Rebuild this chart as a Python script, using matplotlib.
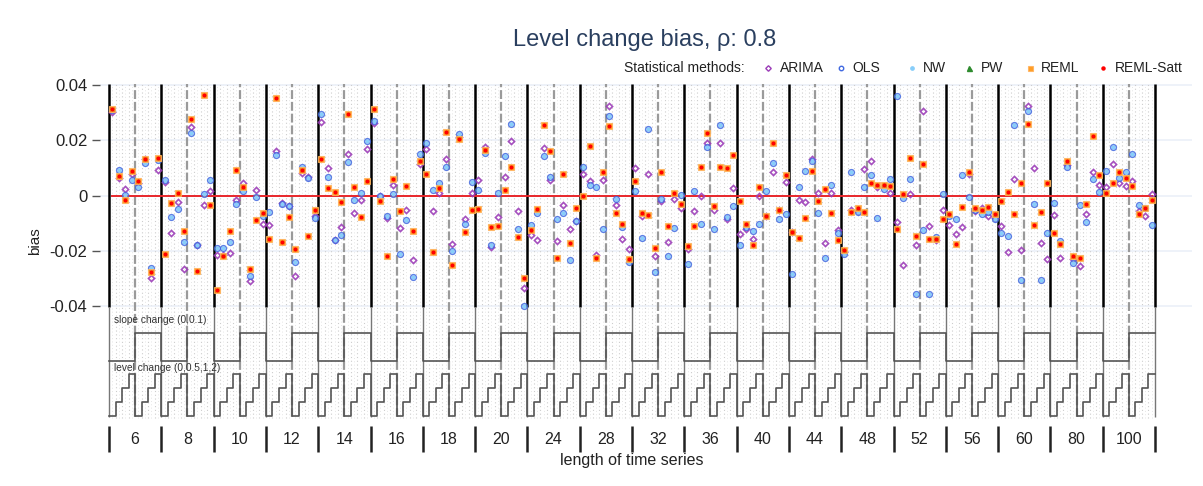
import numpy as np
import matplotlib.pyplot as plt

plt.rcParams['font.family'] = ['Liberation Sans', 'DejaVu Sans']

# nested loop design: length of series (outer), slope change, level change (inner)
lengths = [6, 8, 10, 12, 14, 16, 18, 20, 24, 28, 32, 36, 40, 44, 48, 52, 56, 60, 80, 100]
slope_changes = [0, 0.1]
level_changes = [0, 0.5, 1, 2]
methods = ['ARIMA', 'OLS', 'NW', 'PW', 'REML', 'REML-Satt']

# bias per scenario, 8 per length: slope 0 (levels 0,0.5,1,2), then slope 0.1
arima = [
    0.0302, 0.0065, 0.0024, 0.0080, 0.0047, 0.0134, -0.0297, 0.0092,
    0.0048, -0.0135, -0.0022, -0.0265, 0.0249, -0.0179, -0.0035, 0.0016,
    -0.0214, -0.0216, -0.0208, -0.0017, 0.0045, -0.0309, 0.0022, -0.0103,
    -0.0106, 0.0163, -0.0028, -0.0037, -0.0290, 0.0083, 0.0066, -0.0074,
    0.0267, 0.0099, -0.0162, -0.0113, 0.0150, -0.0064, -0.0016, 0.0169,
    0.0262, -0.0001, -0.0082, 0.0039, -0.0118, -0.0052, -0.0232, 0.0113,
    0.0170, -0.0057, 0.0008, 0.0132, -0.0175, 0.0214, -0.0086, 0.0011,
    0.0057, 0.0175, -0.0185, -0.0076, 0.0069, 0.0197, -0.0056, -0.0334,
    -0.0143, -0.0161, 0.0171, 0.0057, -0.0163, -0.0034, -0.0122, -0.0093,
    0.0077, 0.0054, -0.0215, 0.0057, 0.0326, -0.0035, -0.0156, -0.0194,
    0.0099, -0.0074, 0.0080, -0.0217, -0.0018, -0.0169, -0.0013, -0.0045,
    -0.0193, -0.0056, -0.0001, 0.0192, -0.0052, 0.0192, -0.0086, 0.0027,
    -0.0140, -0.0121, -0.0155, -0.0001, -0.0072, 0.0084, -0.0052, 0.0048,
    -0.0130, -0.0016, -0.0022, 0.0132, 0.0011, -0.0173, 0.0008, -0.0124,
    -0.0205, -0.0050, -0.0055, 0.0095, 0.0125, 0.0030, 0.0035, 0.0010,
    -0.0095, -0.0250, 0.0005, -0.0180, 0.0305, -0.0110, -0.0160, -0.0050,
    -0.0105, -0.0140, -0.0115, 0.0080, -0.0055, -0.0045, -0.0075, -0.0080,
    -0.0110, -0.0205, 0.0060, -0.0195, 0.0325, 0.0100, -0.0170, -0.0230,
    -0.0070, -0.0225, 0.0110, -0.0230, -0.0255, -0.0065, 0.0085, 0.0040,
    0.0030, 0.0115, 0.0045, 0.0035, 0.0055, -0.0055, -0.0075, 0.0005,
]
ols = [
    0.0310, 0.0092, 0.0004, 0.0056, 0.0030, 0.0120, -0.0260, 0.0128,
    0.0058, -0.0076, -0.0047, -0.0167, 0.0228, -0.0180, 0.0007, 0.0057,
    -0.0188, -0.0188, -0.0168, -0.0029, 0.0017, -0.0290, -0.0006, -0.0072,
    -0.0059, 0.0148, -0.0031, -0.0038, -0.0240, 0.0103, 0.0065, -0.0082,
    0.0297, 0.0068, -0.0160, -0.0142, 0.0123, -0.0017, 0.0011, 0.0199,
    0.0269, -0.0001, -0.0075, 0.0007, -0.0211, -0.0087, -0.0293, 0.0151,
    0.0191, 0.0019, 0.0045, 0.0105, -0.0199, 0.0223, -0.0103, 0.0050,
    0.0021, 0.0153, -0.0179, 0.0011, 0.0144, 0.0258, -0.0121, -0.0398,
    -0.0107, -0.0062, 0.0143, 0.0069, -0.0085, -0.0064, -0.0232, -0.0093,
    0.0105, 0.0039, 0.0030, -0.0121, 0.0290, -0.0011, -0.0112, -0.0240,
    0.0018, -0.0152, 0.0241, -0.0275, -0.0013, -0.0217, -0.0116, 0.0001,
    -0.0247, 0.0018, -0.0103, 0.0177, -0.0122, 0.0256, -0.0076, -0.0038,
    -0.0177, -0.0115, -0.0126, -0.0104, 0.0017, 0.0120, -0.0086, -0.0065,
    -0.0285, 0.0033, 0.0091, 0.0124, -0.0064, -0.0225, 0.0040, -0.0135,
    -0.0210, 0.0085, -0.0060, 0.0030, 0.0075, -0.0080, 0.0025, 0.0060,
    0.0360, -0.0010, 0.0060, -0.0355, -0.0125, -0.0355, -0.0150, 0.0005,
    -0.0075, -0.0085, 0.0075, -0.0005, -0.0050, -0.0065, -0.0060, -0.0085,
    -0.0135, -0.0145, 0.0255, -0.0305, 0.0305, -0.0030, -0.0305, -0.0135,
    -0.0025, -0.0165, 0.0105, -0.0245, -0.0035, -0.0095, 0.0060, 0.0015,
    0.0090, 0.0175, 0.0065, 0.0085, 0.0150, -0.0035, -0.0045, -0.0105,
]
reml = [
    0.0313, 0.0072, -0.0014, 0.0089, 0.0052, 0.0134, -0.0275, 0.0138,
    -0.0210, -0.0027, 0.0008, -0.0127, 0.0278, -0.0272, 0.0364, -0.0035,
    -0.0340, -0.0220, -0.0126, 0.0092, 0.0030, -0.0264, -0.0088, -0.0064,
    -0.0156, 0.0352, -0.0168, -0.0076, -0.0193, 0.0093, -0.0146, -0.0050,
    0.0134, 0.0027, 0.0014, -0.0023, 0.0294, 0.0030, -0.0076, 0.0052,
    0.0314, -0.0018, -0.0219, 0.0060, -0.0057, 0.0034, -0.0127, 0.0127,
    0.0077, -0.0203, 0.0027, 0.0232, -0.0252, 0.0207, -0.0132, -0.0053,
    -0.0048, 0.0165, -0.0114, -0.0110, 0.0019, 0.0105, -0.0148, -0.0298,
    -0.0124, -0.0049, 0.0256, 0.0163, -0.0224, 0.0077, -0.0172, -0.0043,
    -0.0002, 0.0181, -0.0227, 0.0085, 0.0252, -0.0064, -0.0103, -0.0229,
    0.0054, -0.0062, -0.0071, -0.0190, 0.0084, -0.0110, 0.0008, -0.0030,
    -0.0182, -0.0109, 0.0103, 0.0226, -0.0037, 0.0105, 0.0099, 0.0148,
    -0.0020, -0.0103, -0.0177, 0.0031, -0.0072, 0.0191, -0.0052, 0.0076,
    -0.0130, -0.0152, -0.0081, 0.0089, -0.0018, 0.0025, -0.0062, -0.0161,
    -0.0195, -0.0060, -0.0045, -0.0060, 0.0045, 0.0040, 0.0040, 0.0035,
    -0.0120, 0.0005, 0.0135, -0.0145, 0.0115, -0.0155, -0.0155, -0.0085,
    -0.0065, -0.0175, -0.0040, 0.0085, -0.0045, -0.0050, -0.0040, -0.0065,
    -0.0020, 0.0015, -0.0065, 0.0045, 0.0260, -0.0105, -0.0060, 0.0045,
    -0.0135, -0.0175, 0.0125, -0.0220, -0.0225, -0.0030, 0.0215, 0.0075,
    0.0010, 0.0045, 0.0085, 0.0065, 0.0035, -0.0065, -0.0045, -0.0015,
]
# NW uses the OLS estimate, REML-Satt the REML estimate; PW has no visible points
nw = ols
reml_satt = reml

yticks = [0.04, 0.02, 0, -0.02, -0.04]
ytick_labels = ['0.04', '0.02', '0', '-0.02', '-0.04']


def ypx(p):
    # pixel row of the figure -> bias units
    return (195.7 - p) / 2762.0


per_block = len(slope_changes) * len(level_changes)
n = len(lengths) * per_block
x = np.arange(n) + 0.5

fig = plt.figure(figsize=(12.03, 4.86), dpi=100)
ax = fig.add_axes([100 / 1203, 30 / 486, 1092 / 1203, 372 / 486])
ax.set_xlim(-9 / 6.5375, (1192 - 109) / 6.5375)
ax.set_ylim(ypx(456), ypx(84))
top = ypx(84)

for s in ax.spines.values():
    s.set_visible(False)
ax.set_xticks([])
ax.set_yticks(yticks)
ax.set_yticklabels(ytick_labels, fontsize=12, color='#222')
ax.tick_params(axis='y', length=6, width=1, color='#555', pad=3)

# horizontal grid
for v in yticks:
    ax.axhline(v, color='#EBF0F8', lw=1.2, zorder=0)

# dotted guide lines at scenario boundaries (lighter ones at centres)
bounds = [b for b in range(1, n) if b % 4 != 0]
ax.vlines(bounds, ypx(418), top, color='#cdcdcd', lw=0.8,
          linestyles=(0, (1, 2.4)), zorder=0.5)
ax.vlines(x, ypx(418), top, color='#e6e6e6', lw=0.7,
          linestyles=(0, (1, 2.4)), zorder=0.4)

# block and sub-block separators
blocks = np.arange(0, n + 1, per_block)
subs = np.arange(len(level_changes), n, per_block)
ax.vlines(blocks, ypx(307), top, color='black', lw=1.8, zorder=2)
ax.vlines(blocks, ypx(417), ypx(307), color='#777', lw=1.0, zorder=2)
ax.vlines(subs, ypx(417), top, color='#9a9a9a', lw=1.6,
          linestyles=(0, (4, 1.3)), zorder=2)

# reference line
ax.plot([x[0], x[-1]], [0, 0], color='#e8262a', lw=1.4, zorder=3)

# step functions for the design parameters
slope_idx = np.array([(i // len(level_changes)) % len(slope_changes) for i in range(n)])
level_idx = np.array([i % len(level_changes) for i in range(n)])
slope_y = ypx(361) + slope_idx * (ypx(333) - ypx(361)) / (len(slope_changes) - 1)
level_y = ypx(416) + level_idx * (ypx(374) - ypx(416)) / (len(level_changes) - 1)
xs = np.arange(n + 1)
ax.step(xs, np.append(slope_y, slope_y[-1]), where='post', color='#555', lw=1.2, zorder=2)
ax.step(xs, np.append(level_y, level_y[-1]), where='post', color='#555', lw=1.2, zorder=2)

fmt = lambda v: '{:g}'.format(v)
ax.text(0.8, ypx(320), 'slope change (' + ','.join(fmt(s) for s in slope_changes) + ')',
        fontsize=7.3, color='#333', va='center')
ax.text(0.8, ypx(368), 'level change (' + ','.join(fmt(s) for s in level_changes) + ')',
        fontsize=7.3, color='#333', va='center')

# x axis: lengths of the series
ax.vlines(blocks, ypx(452), ypx(426), color='#222', lw=1.8)
for b, L in enumerate(lengths):
    ax.text(b * per_block + per_block / 2, ypx(440), str(L), fontsize=11.5,
            ha='center', va='center', color='#222')
ax.text(n / 2, ypx(461), 'length of time series', fontsize=11.5,
        ha='center', va='center', color='#222')
fig.text(35 / 1203, 1 - 241 / 486, 'bias', rotation=90, fontsize=11,
         ha='center', va='center', color='#222')

# estimates
ax.plot(x, arima, ls='none', marker='D', ms=3.1, mfc='none', mec='#9c3db8',
        mew=1.2, alpha=0.9, zorder=4)
ax.plot(x, ols, ls='none', marker='o', ms=4.1, mfc='none', mec='#4169E1',
        mew=1.1, alpha=0.85, zorder=4)
ax.plot(x, nw, ls='none', marker='o', ms=2.0, color='#87CEFA', zorder=4)
ax.plot(x, reml, ls='none', marker='s', ms=4.2, mfc='#FF8C00', mec='#FFB35C',
        mew=0.8, alpha=0.85, zorder=5)
ax.plot(x, reml_satt, ls='none', marker='o', ms=1.9, color='#ff0000', zorder=6)

# title and legend in pixel coordinates
lax = fig.add_axes([0, 0, 1, 1], zorder=10)
lax.set_xlim(0, 1203)
lax.set_ylim(486, 0)
lax.axis('off')
lax.text(645, 40, 'Level change bias, \u03c1: 0.8', fontsize=17, color='#2a3f5f',
         ha='center', va='center')
lax.text(623.8, 68, 'Statistical methods:', fontsize=10, color='#222', va='center')
marker_x = [768, 841, 911.5, 969, 1029.6, 1103]
styles = [
    dict(marker='D', ms=2.8, mfc='none', mec='#9c3db8', mew=1.0),
    dict(marker='o', ms=3.2, mfc='none', mec='#4169E1', mew=1.0),
    dict(marker='o', ms=2.4, color='#87CEFA'),
    dict(marker='^', ms=3.6, color='#2e8b2e'),
    dict(marker='s', ms=3.6, mfc='#FF8C00', mec='#FFB35C', mew=0.8, alpha=0.85),
    dict(marker='o', ms=2.2, color='#ff0000'),
]
for mx, name, st in zip(marker_x, methods, styles):
    lax.plot([mx], [68], ls='none', **st)
    lax.text(mx + 11.5, 68, name, fontsize=10, color='#222', va='center')

fig.savefig('out.png', dpi=100, facecolor='white')
